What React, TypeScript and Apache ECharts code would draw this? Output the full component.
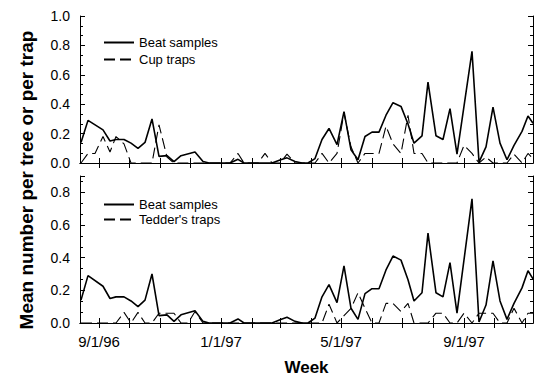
import React, { useEffect, useRef } from "react";
import * as echarts from "echarts";

// Sampling dates (M/D/YY)
const sampleDates = [
  "8/14/96", "8/21/96", "8/28/96", "9/5/96", "9/12/96", "9/18/96", "9/26/96", "10/3/96",
  "10/10/96", "10/17/96", "10/24/96", "10/31/96", "11/8/96", "11/15/96", "11/22/96", "11/29/96",
  "12/6/96", "12/14/96", "12/20/96", "12/27/96", "1/3/97", "1/10/97", "1/18/97", "1/24/97",
  "1/31/97", "2/7/97", "2/14/97", "2/21/97", "3/1/97", "3/8/97", "3/16/97", "3/23/97",
  "3/29/97", "4/5/97", "4/12/97", "4/19/97", "4/27/97", "5/4/97", "5/11/97", "5/18/97",
  "5/25/97", "6/1/97", "6/8/97", "6/15/97", "6/22/97", "6/30/97", "7/7/97", "7/13/97",
  "7/21/97", "7/27/97", "8/4/97", "8/11/97", "8/18/97", "8/25/97", "9/1/97", "9/9/97",
  "9/16/97", "9/23/97", "9/30/97", "10/7/97", "10/14/97", "10/21/97", "10/29/97", "11/4/97",
  "11/9/97",
];

const beatSamples: (number | null)[] = [
  0.14, 0.29, null, 0.225, 0.15, 0.16, 0.16, 0.135,
  0.10, 0.14, 0.30, 0.045, 0.05, 0.01, 0.05, null,
  0.075, 0.01, 0, 0, 0, 0, 0.025, 0,
  0, 0, 0, 0, 0.02, 0.035, 0.01, 0,
  0, 0.03, 0.16, 0.235, 0.125, 0.35, 0.09, 0.022,
  0.18, 0.21, 0.21, 0.325, 0.41, 0.385, 0.265, 0.135,
  0.185, 0.55, 0.185, 0.16, 0.37, 0.06, null, 0.76,
  0.006, 0.11, 0.38, 0.135, 0.022, 0.12, 0.215, 0.32,
  0.27,
];

const cupTraps = [
  0, 0.065, 0.065, 0.18, 0.075, 0.18, 0.13, 0,
  0, 0, 0, 0.26, 0.04, 0, 0, 0,
  0, 0, 0, 0, 0, 0, 0.065, 0,
  0, 0, 0.065, 0, 0, 0.06, 0, 0,
  0, 0, 0.065, 0, 0.065, 0.34, 0.11, 0,
  0.065, 0.065, 0.065, 0.25, 0.13, 0.065, 0.325, 0.065,
  0.065, 0, 0, 0, 0, 0, 0.12, 0.065,
  0, 0.04, 0, 0, 0, 0.06, 0, 0.065,
  0.03,
];

const teddersTraps = [
  0, 0, 0, 0, 0, 0, 0.065, 0,
  0.065, 0, 0, 0.06, 0.06, 0.06, 0, 0,
  0.07, 0, 0, 0, 0, 0, 0, 0,
  0, 0, 0, 0, 0, 0, 0, 0,
  0, 0, 0, 0.115, 0, 0.045, 0.09, 0.185,
  0.09, 0, 0, 0.12, 0.12, 0.07, 0.12, 0,
  0, 0, 0.06, 0.06, 0, 0, 0.06, 0,
  0.06, 0.06, 0.06, 0, 0, 0.09, 0, 0.06,
  0.06,
];

const xTickLabels = ["9/1/96", "1/1/97", "5/1/97", "9/1/97"];
const yTickLabelsTop = [0, 0.2, 0.4, 0.6, 0.8, 1.0];
const yTickLabelsBottom = [0, 0.2, 0.4, 0.6, 0.8];
const axisStart = [1996, 8, 13];
const axisEnd = [1997, 11, 9];

const FONT = "'Liberation Sans', Arial, Helvetica, sans-serif";

function buildDays(): string[] {
  const out: string[] = [];
  const d = new Date(Date.UTC(axisStart[0], axisStart[1] - 1, axisStart[2]));
  const end = Date.UTC(axisEnd[0], axisEnd[1] - 1, axisEnd[2]);
  while (d.getTime() <= end) {
    out.push(`${d.getUTCMonth() + 1}/${d.getUTCDate()}/${String(d.getUTCFullYear()).slice(2)}`);
    d.setUTCDate(d.getUTCDate() + 1);
  }
  return out;
}

export default function App() {
  const ref = useRef<HTMLDivElement>(null);
  useEffect(() => {
    if (!ref.current) return;
    const chart = echarts.init(ref.current, undefined, { renderer: "svg" });
    const days = buildDays();
    const isMonthStart = (_i: number, v: string) => v.split("/")[1] === "1";
    const isLabel = (_i: number, v: string) => xTickLabels.includes(v);
    const black = "#000";

    const xBase = (gridIndex: number, position: "bottom" | "top", labels: boolean) => ({
      type: "category",
      gridIndex,
      position,
      data: days,
      boundaryGap: false,
      axisLine: { show: true, lineStyle: { color: black, width: 1 } },
      axisTick: { show: true, inside: true, length: 5, interval: isMonthStart, lineStyle: { color: black } },
      axisLabel: labels
        ? { show: true, interval: isLabel, color: black, fontSize: 15, fontFamily: FONT, margin: 11 }
        : { show: false },
      splitLine: { show: false },
    });

    const yBase = (gridIndex: number, position: "left" | "right", max: number, allowed: number[], labels: boolean) => ({
      type: "value",
      gridIndex,
      position,
      min: 0,
      max,
      interval: 0.2,
      axisLine: { show: true, lineStyle: { color: black, width: 1 } },
      axisTick: { show: true, inside: true, length: 5, lineStyle: { color: black } },
      minorTick: { show: true, splitNumber: 3, length: 3, lineStyle: { color: black } },
      axisLabel: labels
        ? {
            show: true,
            color: black,
            fontSize: 14,
            fontFamily: FONT,
            margin: 10,
            formatter: (v: number) => (allowed.some((a) => Math.abs(a - v) < 1e-6) ? v.toFixed(1) : ""),
          }
        : { show: false },
      splitLine: { show: false },
      minorSplitLine: { show: false },
    });

    const pairs = (vals: (number | null)[]) => sampleDates.map((d, i) => [d, vals[i] === null ? null : vals[i]]);

    const solid = { color: black, width: 1.6, type: "solid" };
    const dashed = { color: black, width: 1.1, type: [11, 5] };

    const legendBase = {
      orient: "vertical",
      left: 103,
      padding: 0,
      itemWidth: 30,
      itemHeight: 12,
      selectedMode: false,
      itemStyle: { opacity: 0 },
      textStyle: { color: black, fontSize: 13, fontFamily: FONT },
    };

    chart.setOption({
      animation: false,
      backgroundColor: "#fff",
      grid: [
        { left: 80, right: 8, top: 16, height: 147 },
        { left: 80, right: 8, top: 176, height: 147 },
      ],
      xAxis: [
        xBase(0, "bottom", false),
        xBase(0, "top", false),
        {
          ...xBase(1, "bottom", true),
          name: "Week",
          nameLocation: "middle",
          nameGap: 36,
          nameTextStyle: { color: black, fontSize: 17, fontWeight: "bold", fontFamily: FONT },
        },
        xBase(1, "top", false),
      ],
      yAxis: [
        yBase(0, "left", 1.0, yTickLabelsTop, true),
        yBase(0, "right", 1.0, yTickLabelsTop, false),
        yBase(1, "left", 0.9, yTickLabelsBottom, true),
        yBase(1, "right", 0.9, yTickLabelsBottom, false),
      ],
      legend: [
        { ...legendBase, data: ["Beat samples", "Cup traps"], top: 36, itemGap: 4 },
        { ...legendBase, data: ["Beat samples", "Tedder's traps"], top: 198, itemGap: 2 },
      ],
      graphic: [
        {
          type: "text",
          x: 26,
          y: 180,
          rotation: Math.PI / 2,
          style: {
            text: "Mean number per tree or per trap",
            fill: black,
            fontSize: 19,
            fontWeight: "bold",
            fontFamily: FONT,
            textAlign: "center",
            textVerticalAlign: "middle",
          },
        },
      ],
      series: [
        {
          name: "Beat samples",
          type: "line",
          xAxisIndex: 0,
          yAxisIndex: 0,
          data: pairs(beatSamples),
          symbol: "none",
          connectNulls: true,
          lineStyle: solid,
          itemStyle: { color: black },
        },
        {
          name: "Cup traps",
          type: "line",
          xAxisIndex: 0,
          yAxisIndex: 0,
          data: pairs(cupTraps),
          symbol: "none",
          lineStyle: dashed,
          itemStyle: { color: black },
        },
        {
          name: "Beat samples",
          type: "line",
          xAxisIndex: 2,
          yAxisIndex: 2,
          data: pairs(beatSamples),
          symbol: "none",
          connectNulls: true,
          lineStyle: solid,
          itemStyle: { color: black },
        },
        {
          name: "Tedder's traps",
          type: "line",
          xAxisIndex: 2,
          yAxisIndex: 2,
          data: pairs(teddersTraps),
          symbol: "none",
          lineStyle: dashed,
          itemStyle: { color: black },
        },
      ],
    });
    return () => chart.dispose();
  }, []);

  return (
    <div
      ref={ref}
      style={{ position: "absolute", left: 0, top: 0, width: 541, height: 382, background: "#fff" }}
    />
  );
}
